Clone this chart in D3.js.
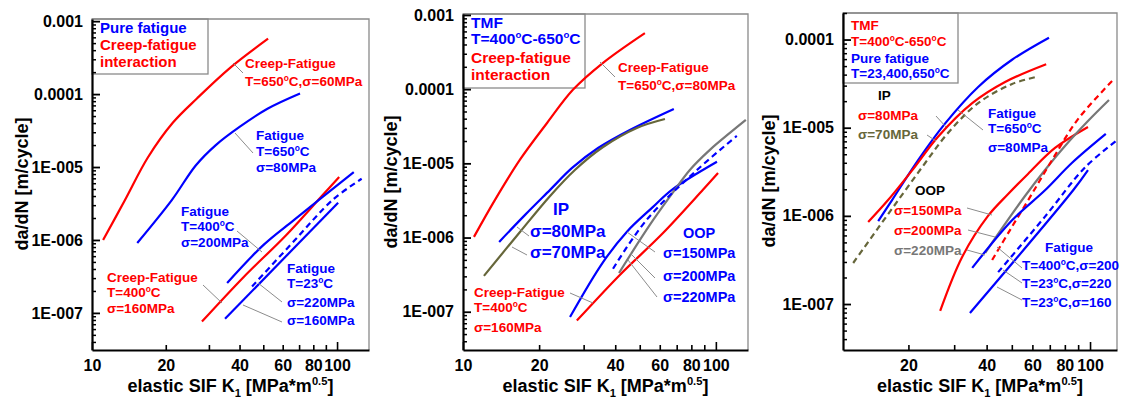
<!DOCTYPE html>
<html>
<head>
<meta charset="utf-8">
<script src="https://cdn.jsdelivr.net/npm/d3@7"></script>
<style>
  body { margin: 0; background: #fff; }
  svg { display: block; }
  text { font-family: "Liberation Sans", Arial, sans-serif; font-weight: bold; }
</style>
</head>
<body>
<div id="app"></div>
<script>
// ---- data: [K1 (MPa*m^0.5), da/dN (m/cycle)] ----
// panel 1: pure fatigue vs creep-fatigue
const p1CreepFatigue650 = [[11.1, 1.0e-6], [13.6, 3.47e-6], [16.9, 1.35e-5], [21.4, 4.07e-5], [26.8, 8.7e-5], [36.6, 2.29e-4], [52.3, 5.75e-4]];
const p1Fatigue650 = [[15.3, 9.1e-7], [21.2, 3.55e-6], [26.5, 1.05e-5], [32, 2.0e-5], [40, 3.55e-5], [52, 6.3e-5], [70.6, 1.02e-4]];
const p1Fatigue400 = [[35.6, 2.57e-7], [50, 8.5e-7], [67, 1.9e-6], [117, 8.5e-6]];
const p1CreepFatigue400 = [[28.1, 7.6e-8], [41.8, 3.16e-7], [61.8, 1.15e-6], [88.9, 4.4e-6], [102, 7.3e-6]];
const p1Fatigue23s220 = [[45, 2.3e-7], [67, 9.8e-7], [96, 3.55e-6], [126, 6.9e-6]];
const p1Fatigue23s160 = [[34.9, 8.3e-8], [101, 3.24e-6]];

// panel 2: TMF vs creep-fatigue
const p2CreepFatigue650 = [[11.05, 1.02e-6], [13.4, 3.24e-6], [16.8, 1.12e-5], [21.5, 3.5e-5], [27.2, 9.8e-5], [35.7, 2.25e-4], [52.4, 5.7e-4]];
const p2IP80 = [[13.9, 8.73e-7], [17.6, 2.02e-6], [22.1, 4.39e-6], [27, 8.67e-6], [34.2, 1.61e-5], [45.7, 2.82e-5], [68.2, 5.41e-5]];
const p2IP70 = [[12.1, 3.04e-7], [16.8, 1.19e-6], [22.1, 3.64e-6], [27.7, 8.15e-6], [35.8, 1.66e-5], [48.7, 3.0e-5], [62.9, 3.96e-5]];
const p2OOP150 = [[26.5, 8.5e-8], [35.7, 4.6e-7], [44.5, 1.2e-6], [56.3, 2.57e-6], [67, 4.4e-6], [101, 1.05e-5]];
const p2CreepFatigue400 = [[28.2, 7.6e-8], [41.8, 3.16e-7], [61.8, 1.15e-6], [88.9, 4.4e-6], [102, 7.4e-6]];
const p2OOP200 = [[39.2, 3.8e-7], [53.3, 1.74e-6], [84.1, 8.1e-6], [121, 2.34e-5]];
const p2OOP220 = [[41.4, 3.33e-7], [54.8, 1.48e-6], [67, 3.87e-6], [78.9, 8.15e-6], [94.7, 1.52e-5], [113.6, 2.57e-5], [131.4, 3.85e-5]];

// panel 3: TMF vs pure fatigue
const p3Fatigue650 = [[15.3, 8.7e-7], [17.3, 1.51e-6], [21.8, 4.3e-6], [27.7, 1.12e-5], [37.1, 2.9e-5], [50.1, 5.9e-5], [69.5, 1.05e-4]];
const p3IP80 = [[14, 8.5e-7], [16.7, 1.51e-6], [20.7, 3.3e-6], [26, 7.9e-6], [35.2, 1.9e-5], [47.1, 3.3e-5], [67.8, 5.25e-5]];
const p3IP70 = [[12.26, 2.92e-7], [15.3, 7.3e-7], [18.9, 1.73e-6], [23.2, 3.98e-6], [28.4, 8.7e-6], [37.1, 1.9e-5], [50.1, 3.13e-5], [62, 3.76e-5]];
const p3OOP150 = [[26.5, 8.36e-8], [32.2, 3.42e-7], [40.5, 9.98e-7], [48.4, 1.77e-6], [57.7, 2.99e-6], [73.3, 5.89e-6], [98.2, 1.02e-5]];
const p3OOP200 = [[42, 3.16e-7], [49.2, 6.9e-7], [58.8, 1.64e-6], [71.4, 4.29e-6], [89.9, 1.25e-5], [122.6, 3.47e-5]];
const p3OOP220 = [[39.5, 3.8e-7], [47.1, 8.1e-7], [56.2, 1.68e-6], [67.1, 3.31e-6], [80.1, 6.2e-6], [98.2, 1.19e-5], [118.3, 2.06e-5]];
const p3Fatigue400 = [[35.2, 2.57e-7], [50.1, 8.9e-7], [67.1, 1.95e-6], [85.3, 4.0e-6], [115, 8.5e-6]];
const p3Fatigue23s220 = [[44.3, 2.3e-7], [67.1, 9.8e-7], [95.7, 3.55e-6], [127, 7.2e-6]];
const p3Fatigue23s160 = [[34.5, 7.9e-8], [86.1, 1.95e-6], [98.2, 3.3e-6]];

// ticks
const xTicks = [10, 20, 30, 40, 50, 60, 70, 80, 90, 100];
const xTickLabels = [10, 20, 40, 60, 80, 100];
const xTitle = "elastic SIF K_1 [MPa*m^0.5]";
const yTitle = "da/dN [m/cycle]";

const RED = "#ff0000", BLUE = "#0000ff", OLIVE = "#66663a", GRAY = "#777777", LEAD = "#8c8c8c";

const svg = d3.select("#app").append("svg").attr("width", 1124).attr("height", 399);

// text with ^o / ^0.5 superscripts and _1 subscripts
function rich(sel, str, size) {
  const parts = str.split(/(\^o|\^[0-9.]+|_[0-9]+)/).filter((s) => s.length);
  let shift = 0;
  parts.forEach((s) => {
    const t = sel.append("tspan");
    if (s[0] === "^" || s[0] === "_") {
      const d = s[0] === "^" ? -0.38 * size : 0.25 * size;
      t.attr("dy", d - shift).attr("font-size", size * 0.62).text(s.slice(1));
      shift = d;
    } else {
      t.attr("dy", -shift).text(s);
      shift = 0;
    }
  });
}

function fmtY(v) {
  const e = Math.round(Math.log10(v));
  return e >= -4 ? String(+v.toPrecision(1)) : "1E-00" + -e;
}

function drawPanel(p, idx) {
  const x = d3.scaleLog().domain(p.xDomain).range([p.left, p.right]);
  const y = d3.scaleLog().domain(p.yDomain).range([p.bottom, p.top]);
  const g = svg.append("g");

  g.append("clipPath").attr("id", "clip" + idx)
    .append("rect").attr("x", p.left).attr("y", p.top)
    .attr("width", p.right - p.left).attr("height", p.bottom - p.top);

  // top/right frame
  g.append("path")
    .attr("d", `M${p.left},${p.top}H${p.right}V${p.bottom}`)
    .attr("fill", "none").attr("stroke", "#8a8a8a").attr("stroke-width", 1.3);

  // legend box
  g.append("rect").attr("x", p.box[0]).attr("y", p.top)
    .attr("width", p.box[1] - p.box[0]).attr("height", p.box[2] - p.top)
    .attr("fill", "none").attr("stroke", "#8a8a8a").attr("stroke-width", 1.3);

  const line = d3.line().x((d) => x(d[0])).y((d) => y(d[1])).curve(d3.curveCatmullRom.alpha(0.5));
  g.append("g").attr("clip-path", `url(#clip${idx})`)
    .selectAll("path").data(p.series).join("path")
    .attr("d", (s) => line(s.data))
    .attr("fill", "none")
    .attr("stroke", (s) => s.color)
    .attr("stroke-width", 2.2)
    .attr("stroke-dasharray", (s) => (s.dash ? "6,4" : null));

  // leader lines
  g.selectAll("line.lead").data(p.leaders).join("line").attr("class", "lead")
    .attr("x1", (d) => d[0]).attr("y1", (d) => d[1]).attr("x2", (d) => d[2]).attr("y2", (d) => d[3])
    .attr("stroke", LEAD).attr("stroke-width", 1);

  // y axis
  const [ylo, yhi] = p.yDomain;
  const yMajor = [], yMinor = [];
  for (let e = Math.floor(Math.log10(ylo)); e <= Math.ceil(Math.log10(yhi)); e++) {
    for (let m = 1; m < 10; m++) {
      const v = m * Math.pow(10, e);
      if (v < ylo || v > yhi) continue;
      (m === 1 ? yMajor : yMinor).push(v);
    }
  }
  g.append("g").attr("transform", `translate(${p.left},0)`)
    .call(d3.axisLeft(y).tickValues(yMinor).tickSize(-4).tickFormat(""))
    .call((a) => a.select(".domain").remove())
    .selectAll("line").attr("stroke-width", 1.5);
  const ya = g.append("g").attr("transform", `translate(${p.left},0)`)
    .call(d3.axisLeft(y).tickValues(yMajor).tickSize(-8).tickSizeOuter(0).tickPadding(9).tickFormat(fmtY));
  ya.select(".domain").attr("stroke-width", 2.2);
  ya.selectAll("line").attr("stroke-width", 1.8);
  ya.selectAll("text").attr("font-size", 16).attr("font-family", null).attr("fill", "#000");

  // x axis
  const xs = xTicks.filter((v) => v >= p.xDomain[0] && v <= p.xDomain[1]);
  const xa = g.append("g").attr("transform", `translate(0,${p.bottom})`)
    .call(d3.axisBottom(x).tickValues(xs).tickSize(-5).tickSizeOuter(0).tickPadding(10)
      .tickFormat((v) => (xTickLabels.includes(v) ? v : "")));
  xa.select(".domain").attr("stroke-width", 2.2);
  xa.selectAll("line").attr("stroke-width", 1.6).attr("y2", (v) => (v === 10 || v === 100 ? -8 : -5));
  xa.selectAll("text").attr("font-size", 16).attr("font-family", null).attr("fill", "#000");

  // titles
  const xt = g.append("text").attr("x", (p.left + p.right) / 2).attr("y", 392)
    .attr("text-anchor", "middle").attr("font-size", 18);
  rich(xt, xTitle, 18);
  g.append("text").attr("transform", `translate(${p.yTitleX},${p.yTitleY}) rotate(-90)`)
    .attr("text-anchor", "middle").attr("font-size", 18).text(yTitle);

  // labels
  p.labels.forEach((l) => {
    const t = g.append("text").attr("x", l[0]).attr("y", l[1])
      .attr("fill", l[3]).attr("font-size", l[4]);
    rich(t, l[2], l[4]);
  });
}

const panels = [
  {
    left: 92, right: 369, top: 19, bottom: 350,
    xDomain: [10, 135], yDomain: [3.1e-8, 1.07e-3],
    box: [92, 208, 74], yTitleX: 28, yTitleY: 184,
    series: [
      { data: p1CreepFatigue650, color: RED },
      { data: p1Fatigue650, color: BLUE },
      { data: p1CreepFatigue400, color: RED },
      { data: p1Fatigue400, color: BLUE },
      { data: p1Fatigue23s220, color: BLUE, dash: true },
      { data: p1Fatigue23s160, color: BLUE },
    ],
    labels: [
      [100, 33, "Pure fatigue", BLUE, 15], [100, 50, "Creep-fatigue", RED, 15], [100, 67, "interaction", RED, 15],
      [245, 68, "Creep-Fatigue", RED, 13.5], [245, 86, "T=650^oC,σ=60MPa", RED, 13.5],
      [256, 140, "Fatigue", BLUE, 13.5], [256, 156, "T=650^oC", BLUE, 13.5], [256, 172, "σ=80MPa", BLUE, 13.5],
      [181, 216, "Fatigue", BLUE, 13.5], [181, 231, "T=400^oC", BLUE, 13.5], [181, 247, "σ=200MPa", BLUE, 13.5],
      [107, 282, "Creep-Fatigue", RED, 13.5], [107, 297, "T=400^oC", RED, 13.5], [107, 313, "σ=160MPa", RED, 13.5],
      [287, 273, "Fatigue", BLUE, 13.5], [287, 288, "T=23^oC", BLUE, 13.5], [287, 307, "σ=220MPa", BLUE, 13.5], [287, 325, "σ=160MPa", BLUE, 13.5],
    ],
    leaders: [[233, 63, 243, 73], [235, 133, 253, 153], [237, 231, 262, 252], [203, 285, 222, 303], [258, 283, 282, 302], [243, 305, 282, 322]],
  },
  {
    left: 463, right: 748, top: 14, bottom: 350,
    xDomain: [10, 134], yDomain: [3.05e-8, 1.03e-3],
    box: [463, 585, 88], yTitleX: 397, yTitleY: 182,
    series: [
      { data: p2CreepFatigue650, color: RED },
      { data: p2IP80, color: BLUE },
      { data: p2IP70, color: OLIVE },
      { data: p2OOP150, color: BLUE },
      { data: p2CreepFatigue400, color: RED },
      { data: p2OOP220, color: GRAY },
      { data: p2OOP200, color: BLUE, dash: true },
    ],
    labels: [
      [471, 28, "TMF", BLUE, 15.5], [471, 44, "T=400^oC-650^oC", BLUE, 15.5], [471, 63, "Creep-fatigue", RED, 15.5], [471, 80, "interaction", RED, 15.5],
      [618, 72, "Creep-Fatigue", RED, 13.5], [618, 90, "T=650^oC,σ=80MPa", RED, 13.5],
      [553, 215, "IP", BLUE, 17], [530, 237, "σ=80MPa", BLUE, 17], [530, 258, "σ=70MPa", BLUE, 17],
      [683, 238, "OOP", BLUE, 14.5], [663, 258, "σ=150MPa", BLUE, 14.5], [663, 281, "σ=200MPa", BLUE, 14.5], [663, 302, "σ=220MPa", BLUE, 14.5],
      [474, 297, "Creep-Fatigue", RED, 13.5], [474, 312, "T=400^oC", RED, 13.5], [474, 332, "σ=160MPa", RED, 13.5],
    ],
    leaders: [[600, 62, 615, 77], [517, 227, 529, 236], [512, 247, 527, 255], [627, 232, 655, 252], [630, 253, 655, 278], [628, 260, 657, 297], [570, 293, 593, 303]],
  },
  {
    left: 843, right: 1117, top: 13, bottom: 350,
    xDomain: [11.2, 127], yDomain: [3.01e-8, 2.0e-4],
    box: [843, 958, 83], yTitleX: 775, yTitleY: 181,
    series: [
      { data: p3Fatigue650, color: BLUE },
      { data: p3IP80, color: RED },
      { data: p3IP70, color: OLIVE, dash: true },
      { data: p3OOP150, color: RED },
      { data: p3OOP220, color: GRAY },
      { data: p3OOP200, color: RED, dash: true },
      { data: p3Fatigue400, color: BLUE },
      { data: p3Fatigue23s220, color: BLUE, dash: true },
      { data: p3Fatigue23s160, color: BLUE },
    ],
    labels: [
      [851, 30, "TMF", RED, 13.5], [851, 46, "T=400^oC-650^oC", RED, 13.5], [851, 63, "Pure fatigue", BLUE, 13.5], [851, 78, "T=23,400,650^oC", BLUE, 13.5],
      [878, 100, "IP", "#000", 13.5], [858, 120, "σ=80MPa", RED, 13.5], [858, 139, "σ=70MPa", OLIVE, 13.5],
      [988, 118, "Fatigue", BLUE, 13.5], [988, 133, "T=650^oC", BLUE, 13.5], [988, 152, "σ=80MPa", BLUE, 13.5],
      [915, 195, "OOP", "#000", 13.5], [894, 215, "σ=150MPa", RED, 13.5], [894, 235, "σ=200MPa", RED, 13.5], [894, 255, "σ=220MPa", GRAY, 13.5],
      [1045, 252, "Fatigue", BLUE, 13.5], [1022, 270, "T=400^oC,σ=200", BLUE, 13.5], [1022, 288, "T=23^oC,σ=220", BLUE, 13.5], [1022, 307, "T=23^oC,σ=160", BLUE, 13.5],
    ],
    leaders: [[936, 116, 946, 127], [927, 135, 936, 141], [958, 110, 983, 130], [967, 208, 992, 215], [968, 230, 995, 237], [967, 250, 985, 255], [997, 247, 1022, 268], [1003, 270, 1022, 283], [997, 287, 1022, 300]],
  },
];

panels.forEach(drawPanel);
</script>
</body>
</html>
